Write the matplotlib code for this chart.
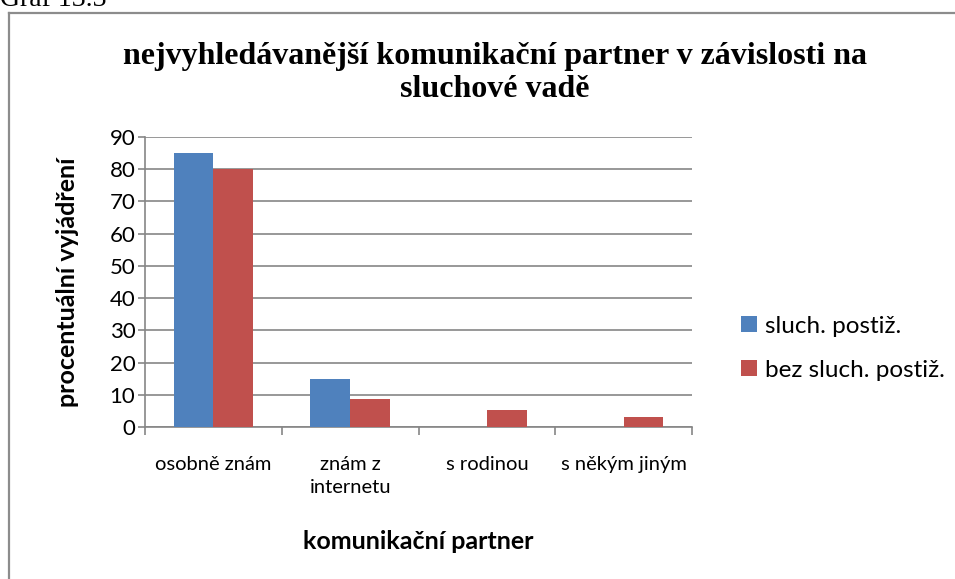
import matplotlib
matplotlib.use("Agg")
import matplotlib.pyplot as plt
import numpy as np
from matplotlib.lines import Line2D

categories = ["osobně znám", "znám z\ninternetu", "s rodinou", "s někým jiným"]
series_names = ["sluch. postiž.", "bez sluch. postiž."]
s1 = [85, 15, 0, 0]
s2 = [80, 8.8, 5.4, 3.2]
yticks = [0, 10, 20, 30, 40, 50, 60, 70, 80, 90]
colors = ["#4F81BD", "#C0504D"]

sans = ["Lato", "DejaVu Sans"]
serif = ["Liberation Serif", "DejaVu Serif"]

fig = plt.figure(figsize=(9.55, 5.79), dpi=100)
W, H = 955, 579

# frame
fig.add_artist(Line2D([9 / W, 9 / W], [0, 1 - 13 / H], transform=fig.transFigure, color="#8c8c8c", lw=1.6))
fig.add_artist(Line2D([9 / W, 1], [1 - 13 / H, 1 - 13 / H], transform=fig.transFigure, color="#8c8c8c", lw=1.6))
fig.text(0, 1 - 6 / H, "Graf 13.3", family=serif, fontsize=20, ha="left", va="baseline")

ax = fig.add_axes([145 / W, 1 - 427 / H, 547 / W, 290 / H])
x = np.arange(len(categories))
bw = 0.29
ax.bar(x - bw / 2, s1, bw, color=colors[0], label=series_names[0], zorder=3)
ax.bar(x + bw / 2, s2, bw, color=colors[1], label=series_names[1], zorder=3)

ax.set_xlim(-0.5, len(categories) - 0.5)
ax.set_ylim(0, 90)
ax.set_yticks(yticks)
ax.set_yticklabels([str(v) for v in yticks], family=sans, fontsize=16)
ax.yaxis.grid(True, color="#868686", lw=1.2, zorder=0)
ax.set_axisbelow(True)

ax.set_xticks(x)
ax.set_xticklabels(categories, family=sans, fontsize=14.5, linespacing=1.45)
ax.tick_params(axis="x", length=0, pad=21)
ax.set_xticks(np.arange(-0.5, len(categories)), minor=True)
ax.tick_params(axis="x", which="minor", length=6, color="#868686", width=1.2)
ax.tick_params(axis="y", length=5, color="#868686", width=1.2, pad=2)

for s in ["top", "right"]:
    ax.spines[s].set_visible(False)
for s in ["left", "bottom"]:
    ax.spines[s].set_color("#868686")
    ax.spines[s].set_linewidth(1.2)

ax.set_ylabel("procentuální vyjádření", family=sans, fontsize=18, fontweight="bold", labelpad=22)
ax.set_xlabel("komunikační partner", family=sans, fontsize=18, fontweight="bold", labelpad=24)

fig.text(495 / W, 1 - 73 / H, "nejvyhledávanější komunikační partner v závislosti na\nsluchové vadě",
         family=serif, fontsize=23, fontweight="bold", ha="center", va="center", linespacing=1.15)

leg = fig.legend(loc="upper left", bbox_to_anchor=(731 / W, 1 - 306 / H), frameon=False,
                 prop={"family": sans, "size": 17.5}, handlelength=0.65, handleheight=0.65,
                 handletextpad=0.35, labelspacing=0.95, borderaxespad=0)

fig.savefig("out.png", dpi=100)
